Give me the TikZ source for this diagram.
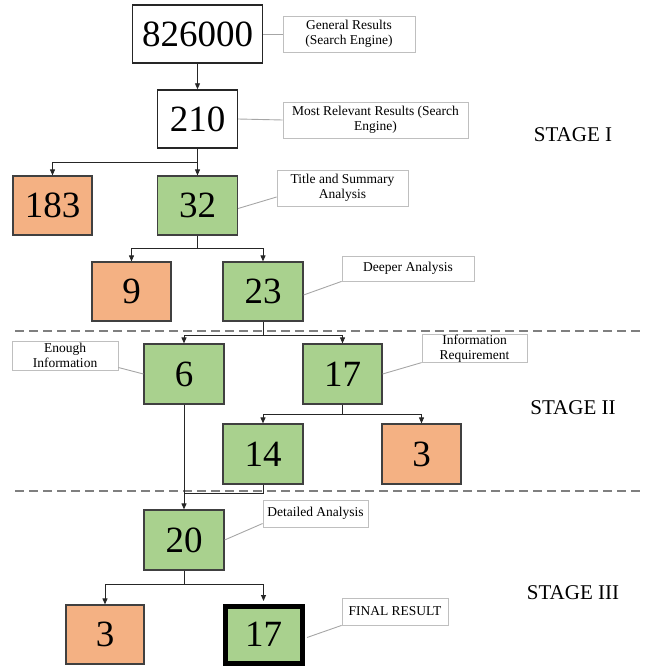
\documentclass[tikz,border=0pt]{standalone}
\usepackage{fontspec}
\newfontfamily\lblfont{Liberation Serif}
\usetikzlibrary{arrows.meta,calc,shadows}
\definecolor{boxorange}{HTML}{F4B183}
\definecolor{boxgreen}{HTML}{A9D18E}
\definecolor{boxedge}{HTML}{404040}
\definecolor{lbledge}{HTML}{BFBFBF}
\definecolor{lblline}{HTML}{A6A6A6}
\definecolor{dashgray}{HTML}{7F7F7F}
\begin{document}
\begin{tikzpicture}[x=1pt,y=-1pt,
  numbox/.style={draw=boxedge,line width=1.2pt,inner sep=0pt,
    font=\lblfont\fontsize{37}{40}\selectfont},
  whitebox/.style={numbox,fill=white,draw=black!85,line width=1.4pt},
  greenbox/.style={numbox,fill=boxgreen},
  orangebox/.style={numbox,fill=boxorange},
  finalbox/.style={numbox,fill=boxgreen,draw=black,line width=5pt},
  lbl/.style={draw=lbledge,line width=0.8pt,fill=white,inner sep=0pt,align=center,
    font=\lblfont\fontsize{13.5}{15}\selectfont,
    drop shadow={shadow xshift=1pt,shadow yshift=-1pt,opacity=0.2}},
  lblconn/.style={draw=lblline,line width=0.9pt},
  conn/.style={draw=black!85,line width=0.9pt},
  arr/.style={conn,-{Triangle[length=6pt,width=5pt]}},
  stage/.style={font=\lblfont\fontsize{21}{24}\selectfont,inner sep=0pt},
  dashline/.style={draw=dashgray,line width=1.6pt,dash pattern=on 9pt off 5pt}]
\useasboundingbox (0,0) rectangle (644,668);

% dashed stage separators
\coordinate (d1a) at (15,331); \coordinate (d1b) at (644,331);
\coordinate (d2a) at (15,491); \coordinate (d2b) at (644,491);
\draw[dashline] (d1a) -- (d1b);
\draw[dashline] (d2a) -- (d2b);

% number boxes
\node[whitebox,minimum width=130,minimum height=58] (n826) at (197.5,34) {826000};
\node[whitebox,minimum width=80,minimum height=58] (n210) at (197.5,119) {210};
\node[orangebox,minimum width=79,minimum height=59] (n183) at (52.5,205.5) {183};
\node[greenbox,minimum width=80,minimum height=59] (n32) at (197.5,205.5) {32};
\node[orangebox,minimum width=79,minimum height=59] (n9) at (131.5,291.5) {9};
\node[greenbox,minimum width=80,minimum height=59] (n23) at (263,291.5) {23};
\node[greenbox,minimum width=80,minimum height=60] (n6) at (184,374) {6};
\node[greenbox,minimum width=79,minimum height=60] (n17) at (342.5,374) {17};
\node[greenbox,minimum width=80,minimum height=60] (n14) at (263,454) {14};
\node[orangebox,minimum width=79,minimum height=60] (n3a) at (421.5,454) {3};
\node[greenbox,minimum width=80,minimum height=60] (n20) at (184,540) {20};
\node[orangebox,minimum width=78,minimum height=59] (n3b) at (105,634.5) {3};
\node[finalbox,minimum width=77,minimum height=57] (n17f) at (263.5,634.5) {17};

% annotation labels
\node[lbl,minimum width=132,minimum height=36] (l1) at (349,34) {General Results\\(Search Engine)};
\node[lbl,minimum width=185,minimum height=36] (l2) at (375.5,120) {Most Relevant Results (Search\\Engine)};
\node[lbl,minimum width=131,minimum height=36] (l3) at (342.5,188) {Title and Summary\\Analysis};
\node[lbl,minimum width=132,minimum height=25] (l4) at (408,268.5) {Deeper Analysis};
\node[lbl,minimum width=106,minimum height=29] (l5) at (65,355.5) {Enough\\Information};
\node[lbl,minimum width=105,minimum height=27] (l6) at (474.5,348.5) {Information\\Requirement};
\node[lbl,minimum width=105,minimum height=27] (l7) at (315.5,513.5) {Detailed Analysis};
\node[lbl,minimum width=106,minimum height=27] (l8) at (395,611.5) {FINAL RESULT};

% stage titles
\node[stage] (s1) at (573,135) {STAGE I};
\node[stage] (s2) at (573,408) {STAGE II};
\node[stage] (s3) at (573,593) {STAGE III};

% label connectors
\draw[lblconn] (n826.east) -- (l1.west);
\draw[lblconn] (n210.east) -- (l2.west);
\draw[lblconn] ($(n32.east)+(0,3)$) -- ($(l3.west)+(0,9)$);
\draw[lblconn] ($(n23.east)+(0,3.5)$) -- (l4.south west);
\draw[lblconn] ($(l5.east)+(0,12)$) -- (n6.west);
\draw[lblconn] (n17.east) -- (l6.south west);
\draw[lblconn] (n20.east) -- ($(l7.west)+(0,10)$);
\draw[lblconn] ($(n17f.east)+(2.5,3)$) -- (l8.south west);

% flow connectors
\draw[arr] (n826.south) -- (n210.north);

\coordinate (b1) at (197.5,162);
\draw[conn] (n210.south) -- (b1);
\draw[arr] (b1) -| (n183.north);
\draw[arr] (b1) -- (n32.north);

\coordinate (b2) at (197.5,248);
\draw[conn] (n32.south) -- (b2);
\draw[arr] (b2) -| (n9.north);
\draw[arr] (b2) -| (n23.north);

\coordinate (b3) at (263,335);
\draw[conn] (n23.south) -- (b3);
\draw[arr] (b3) -| (n6.north);
\draw[arr] (b3) -| (n17.north);

\coordinate (b4) at (342.5,414);
\draw[conn] (n17.south) -- (b4);
\draw[arr] (b4) -| (n14.north);
\draw[arr] (b4) -| (n3a.north);

\coordinate (b5) at (184,493);
\draw[arr] (n6.south) -- (n20.north);
\draw[conn] (n14.south) |- (b5);

\coordinate (b6) at (184,584);
\draw[conn] (n20.south) -- (b6);
\draw[arr] (b6) -| (n3b.north);
\draw[arr] (b6) -| ($(n17f.north)+(0,-2.5)$);
\end{tikzpicture}
\end{document}
